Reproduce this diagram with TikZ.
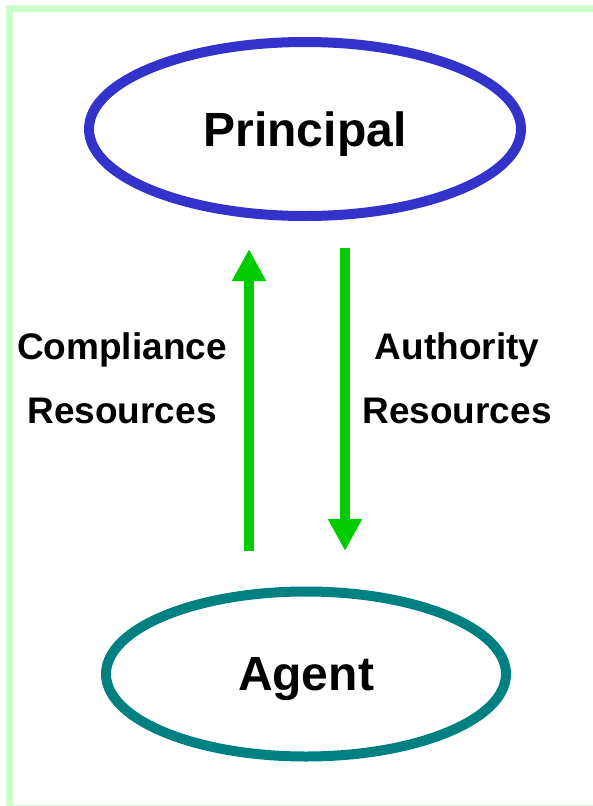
\documentclass[tikz,border=0pt]{standalone}
\usepackage{fontspec}
\setmainfont{Liberation Sans}
\usetikzlibrary{arrows.meta,shapes.geometric}

\definecolor{framegreen}{HTML}{CCFFCC}
\definecolor{princblue}{HTML}{3333CC}
\definecolor{agentteal}{HTML}{008080}
\definecolor{flowgreen}{HTML}{00CC00}

\begin{document}
\begin{tikzpicture}[x=1pt,y=-1pt,
    party/.style={ellipse, line width=10pt, text depth=0pt, font=\fontsize{48}{56}\selectfont\bfseries},
    flow/.style={draw=flowgreen, line width=10pt, -{Triangle[width=32pt,length=32pt]}},
    lbl/.style={align=center, font=\fontsize{37}{64}\selectfont\bfseries}]
    \useasboundingbox (0,0) rectangle (593,806);
    \draw[framegreen, line width=6.5pt] (9.3,8.3) rectangle (620,808.6);

    \node[party, draw=princblue, minimum width=432pt, minimum height=174pt] (principal) at (305,129) {Principal};
    \node[party, draw=agentteal, minimum width=400pt, minimum height=165pt] (agent) at (306,674) {Agent};

    \coordinate (upfoot) at (249,551);
    \coordinate (uphead) at (249,249);
    \coordinate (downfoot) at (345,248);
    \coordinate (downhead) at (345,551);

    \draw[flow] (upfoot) -- (uphead);
    \draw[flow] (downfoot) -- (downhead);

    % labels beside the arrows
    \node[lbl] (compl) at (122,378) {Compliance\\Resources};
    \node[lbl] (auth) at (457,378) {Authority\\Resources};
\end{tikzpicture}
\end{document}
